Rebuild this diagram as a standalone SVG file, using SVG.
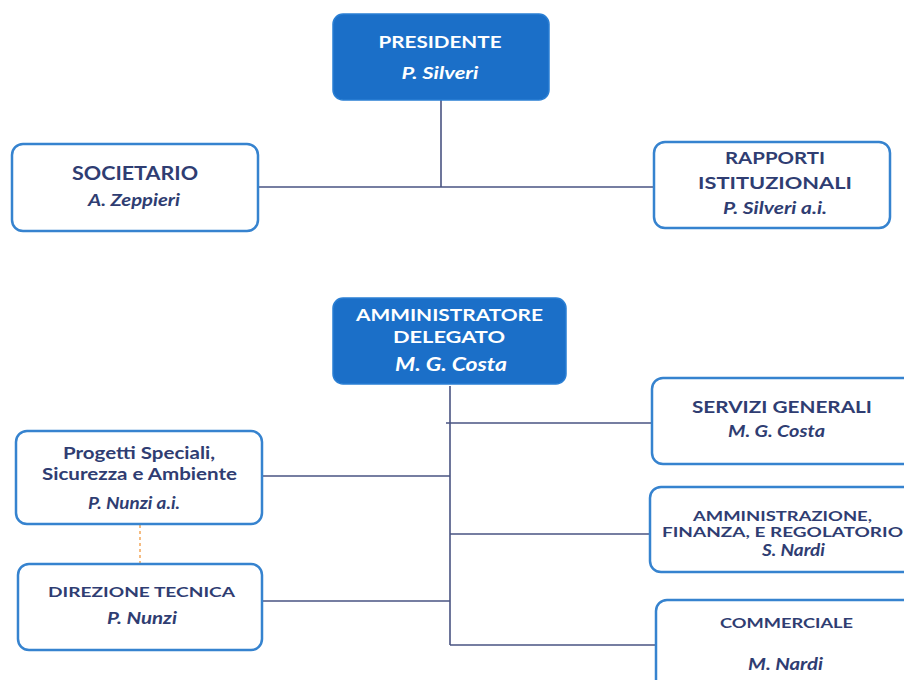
<svg xmlns="http://www.w3.org/2000/svg" width="904" height="680" viewBox="0 0 904 680">
<style>
.fill{fill:#1b6fc8;stroke:#2a7fd4;stroke-width:1.5}
.box{fill:#ffffff;stroke:#3683cf;stroke-width:2.5}
.t{font-family:Lato,"Open Sans",sans-serif;font-weight:bold;text-anchor:middle;fill:#2f3d72}
.w{fill:#ffffff}
.i{font-style:italic}
.c{fill:none;stroke:#4a5482;stroke-width:1.6}
.d{fill:none;stroke:#f2a65a;stroke-width:1.5;stroke-dasharray:3 3}
</style>
<rect width="904" height="680" fill="#ffffff"/>
<g id="connectors">
<path class="c" d="M441 100 V187 M258 187 H654"/>
<path class="c" d="M450 386 V645 M446 423 H652 M262 476 H450 M450 534 H650 M262 601 H450 M450 645 H656"/>
<path class="d" d="M140 525 V563"/>
</g>
<g id="presidente">
<rect class="fill" x="333" y="14" width="216" height="86" rx="10"/>
<text class="t w" x="440" y="48" font-size="17" textLength="123" lengthAdjust="spacingAndGlyphs">PRESIDENTE</text>
<text class="t w i" x="440" y="79" font-size="17" textLength="77" lengthAdjust="spacingAndGlyphs">P. Silveri</text>
</g>
<g id="societario">
<rect class="box" x="12" y="144" width="246" height="87" rx="11"/>
<text class="t" x="135" y="180" font-size="18" textLength="126" lengthAdjust="spacingAndGlyphs">SOCIETARIO</text>
<text class="t i" x="134" y="206" font-size="17" textLength="92" lengthAdjust="spacingAndGlyphs">A. Zeppieri</text>
</g>
<g id="rapporti">
<rect class="box" x="654" y="142" width="236" height="86" rx="11"/>
<text class="t" x="775" y="164" font-size="17" textLength="100" lengthAdjust="spacingAndGlyphs">RAPPORTI</text>
<text class="t" x="775" y="189" font-size="17" textLength="154" lengthAdjust="spacingAndGlyphs">ISTITUZIONALI</text>
<text class="t i" x="775" y="214" font-size="17" textLength="104" lengthAdjust="spacingAndGlyphs">P. Silveri a.i.</text>
</g>
<g id="ad">
<rect class="fill" x="333" y="298" width="233" height="86" rx="10"/>
<text class="t w" x="449.5" y="321" font-size="17" textLength="187" lengthAdjust="spacingAndGlyphs">AMMINISTRATORE</text>
<text class="t w" x="449" y="343" font-size="17" textLength="112" lengthAdjust="spacingAndGlyphs">DELEGATO</text>
<text class="t w i" x="451" y="371" font-size="18" textLength="112" lengthAdjust="spacingAndGlyphs">M. G. Costa</text>
</g>
<g id="progetti">
<rect class="box" x="16" y="431" width="246" height="93" rx="11"/>
<text class="t" x="139" y="459" font-size="17" textLength="152" lengthAdjust="spacingAndGlyphs">Progetti Speciali,</text>
<text class="t" x="139.5" y="480" font-size="17" textLength="195" lengthAdjust="spacingAndGlyphs">Sicurezza e Ambiente</text>
<text class="t i" x="134" y="509" font-size="17" textLength="92" lengthAdjust="spacingAndGlyphs">P. Nunzi a.i.</text>
</g>
<g id="direzione">
<rect class="box" x="18" y="564" width="244" height="86" rx="11"/>
<text class="t" x="141.5" y="597" font-size="13" textLength="187" lengthAdjust="spacingAndGlyphs">DIREZIONE TECNICA</text>
<text class="t i" x="142" y="624" font-size="17" textLength="70" lengthAdjust="spacingAndGlyphs">P. Nunzi</text>
</g>
<g id="servizi">
<rect class="box" x="652" y="378" width="262" height="86" rx="11"/>
<text class="t" x="782" y="413" font-size="17" textLength="180" lengthAdjust="spacingAndGlyphs">SERVIZI GENERALI</text>
<text class="t i" x="776.5" y="437" font-size="17" textLength="97" lengthAdjust="spacingAndGlyphs">M. G. Costa</text>
</g>
<g id="amministrazione">
<rect class="box" x="650" y="487" width="264" height="85" rx="11"/>
<text class="t" x="782.5" y="521" font-size="13" textLength="179" lengthAdjust="spacingAndGlyphs">AMMINISTRAZIONE,</text>
<text class="t" x="782.5" y="537" font-size="13" textLength="241" lengthAdjust="spacingAndGlyphs">FINANZA, E REGOLATORIO</text>
<text class="t i" x="793.5" y="556" font-size="17" textLength="63" lengthAdjust="spacingAndGlyphs">S. Nardi</text>
</g>
<g id="commerciale">
<rect class="box" x="656" y="600" width="258" height="90" rx="11"/>
<text class="t" x="786.5" y="628" font-size="14" textLength="133" lengthAdjust="spacingAndGlyphs">COMMERCIALE</text>
<text class="t i" x="785.5" y="670" font-size="17" textLength="75" lengthAdjust="spacingAndGlyphs">M. Nardi</text>
</g>
</svg>
